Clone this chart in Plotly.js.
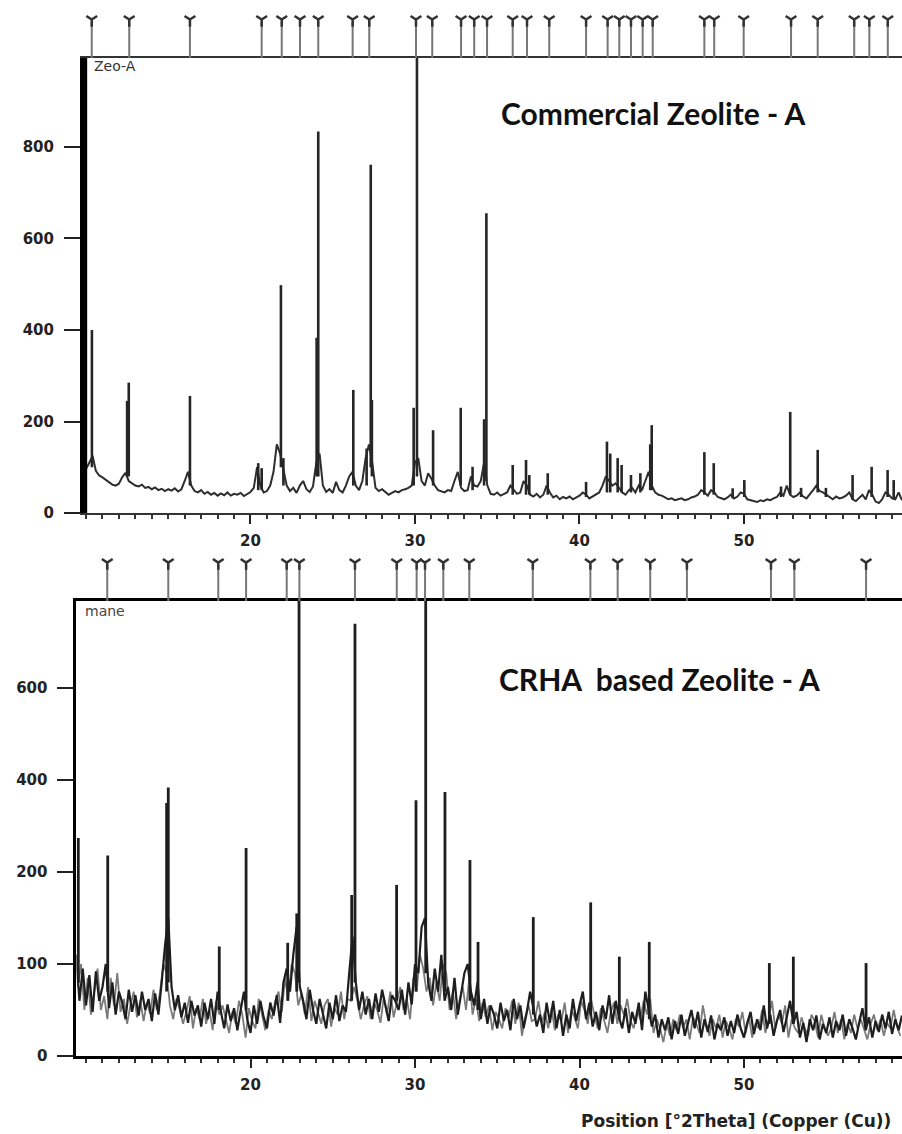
<!DOCTYPE html>
<html>
<head>
<meta charset="utf-8">
<script src="https://cdn.plot.ly/plotly-3.0.1.min.js"></script>
<style>html,body{margin:0;padding:0;background:#fff;}#chart{width:902px;height:1134px;}</style>
</head>
<body>
<div id="chart"></div>
<script>
// ---------- DATA: top panel (Commercial Zeolite-A) ----------
const topScanStart = 9.8;
const topScanStep = 0.2;
const topBackground = [
  92, 96,
  110, 125, 92, 82, 78,
  72, 66, 62, 60, 64,
  78, 88, 70, 64, 60,
  58, 62, 55, 57, 52,
  56, 50, 53, 48, 52,
  49, 54, 47, 52, 70,
  90, 60, 48, 45, 50,
  42, 46, 40, 44, 38,
  43, 39, 45, 38, 42,
  40, 44, 37, 41, 46,
  55, 100, 60, 45, 48,
  60, 90, 150, 130, 95,
  60, 48, 55, 44, 60,
  70, 52, 46, 58, 110,
  130, 60, 46, 52, 44,
  68, 50, 45, 60, 80,
  90, 60, 50, 70, 120,
  150, 110, 55, 48, 52,
  46, 40, 44, 48, 45,
  50, 52, 55, 60, 110,
  120, 70, 60, 87, 75,
  60, 50, 48, 45, 50,
  48, 70, 90, 55, 48,
  50, 80, 60, 58, 70,
  110, 60, 42, 40, 45,
  38, 42, 45, 60, 50,
  42, 45, 70, 60, 40,
  36, 42, 34, 40, 60,
  45, 34, 38, 30, 35,
  32, 36, 30, 34, 38,
  45, 40, 32, 36, 40,
  45, 60, 80, 70, 60,
  65, 55, 45, 40, 50,
  55, 45, 60, 50, 70,
  90, 60, 45, 40, 38,
  34, 30, 32, 28, 30,
  32, 28, 30, 34, 36,
  40, 50, 45, 38, 50,
  45, 35, 32, 30, 34,
  40, 32, 36, 45, 42,
  30, 28, 26, 24, 28,
  26, 30, 28, 32, 35,
  45, 38, 60, 40, 35,
  38, 45, 36, 32, 40,
  50, 60, 48, 45, 40,
  35, 30, 36, 32, 34,
  38, 45, 30, 26, 32,
  40, 30, 50, 40, 25,
  22, 30, 45, 40, 32,
  30, 45, 28
];
// intense low-angle signal at the very start of the scan (off scale)
const topLowAnglePos = [9.86];
const topLowAngleTop = [1100];
const topLowAngleBase = [0];
const topPeakPos  = [10.36, 12.50, 12.60, 16.32, 20.47, 20.68, 21.85, 22.00, 24.02, 24.12, 26.25, 27.06, 27.31, 27.38, 29.92, 30.12, 31.10, 32.78, 33.50, 34.20, 34.34, 35.94, 36.75, 36.95, 38.07, 40.40, 41.67, 41.87, 42.32, 42.56, 43.13, 43.70, 44.30, 44.39, 47.59, 48.16, 49.31, 50.02, 52.25, 52.81, 53.47, 54.48, 54.98, 56.60, 57.76, 58.73, 59.10];
const topPeakTop  = [400, 245, 285, 256, 109, 98, 498, 120, 383, 834, 269, 141, 761, 247, 230, 1000, 181, 230, 101, 205, 655, 105, 116, 83, 87, 68, 156, 130, 120, 105, 83, 87, 150, 192, 133, 109, 54, 72, 58, 221, 55, 138, 55, 83, 101, 94, 72];
const topPeakBase = [100, 80, 80, 60, 50, 50, 100, 60, 80, 80, 60, 60, 100, 80, 60, 80, 60, 60, 50, 60, 70, 40, 40, 40, 40, 35, 45, 45, 45, 45, 45, 45, 50, 50, 40, 40, 32, 35, 35, 40, 35, 45, 35, 30, 35, 35, 30];
const topReferenceLines = [10.35, 12.63, 16.32, 20.68, 21.90, 23.01, 24.12, 26.21, 27.22, 30.06, 31.05, 32.80, 33.60, 34.38, 35.94, 36.81, 38.16, 40.40, 41.71, 42.42, 43.13, 43.84, 44.45, 47.59, 48.19, 49.98, 52.86, 54.48, 56.70, 57.62, 58.74];
const topYTicks = [0, 200, 400, 600, 800];

// ---------- DATA: bottom panel (CRHA based Zeolite-A) ----------
const bottomScanStart = 9.4;
const bottomScanStep = 0.2;
const bottomDark = [
  110, 60, 95, 55,
  88, 48, 92, 60, 75,
  100, 52, 80, 45, 70,
  58, 40, 72, 48, 66,
  44, 70, 50, 62, 38,
  68, 45, 80, 120, 150,
  75, 50, 66, 42, 58,
  36, 60, 44, 55, 32,
  58, 40, 62, 35, 70,
  48, 30, 56, 38, 52,
  28, 50, 70, 40, 25,
  55, 35, 60, 42, 30,
  58, 44, 66, 36, 80,
  95, 70, 110, 140, 75,
  60, 40, 72, 50, 35,
  62, 45, 30, 58, 40,
  66, 38, 55, 48, 90,
  130, 80, 50, 70, 45,
  62, 40, 68, 48, 72,
  55, 38, 66, 60, 50,
  72, 45, 80, 56, 100,
  90, 140, 150, 80, 60,
  95, 70, 110, 60, 75,
  50, 85, 45, 66, 90,
  100, 70, 55, 80, 40,
  62, 35, 55, 45, 30,
  58, 38, 50, 28, 62,
  40, 55, 30, 48, 70,
  52, 32, 45, 25, 58,
  36, 60, 30, 50, 22,
  45, 30, 62, 38, 55,
  70, 40, 58, 32, 48,
  28, 55, 40, 66, 35,
  60, 42, 30, 52, 25,
  48, 35, 58, 28, 70,
  50, 32, 45, 20, 40,
  28, 42, 18, 38, 24,
  45, 22, 36, 50, 30,
  48, 20, 40, 26, 44,
  18, 35, 28, 42, 22,
  38, 25, 45, 30, 20,
  36, 48, 24, 40, 28,
  55, 30, 45, 22, 38,
  50, 26, 42, 60, 35,
  48, 20, 36, 15, 40,
  28, 44, 18, 35, 25,
  42, 20, 38, 28, 45,
  22, 40, 30, 18, 36,
  52, 28, 42, 20, 38,
  26, 45, 30, 48, 24,
  40, 28, 44
];
const bottomGrayStart = 9.5;
const bottomGray = [
  75, 100, 50, 85,
  45, 70, 95, 50, 65,
  40, 85, 55, 90, 48,
  62, 35, 55, 70, 42,
  60, 38, 58, 46, 72,
  50, 70, 100, 90, 55,
  40, 62, 50, 35, 48,
  65, 30, 52, 40, 62,
  35, 50, 28, 60, 45,
  55, 40, 25, 48, 35,
  60, 45, 20, 52, 38,
  30, 62, 45, 28, 50,
  40, 60, 70, 48, 85,
  60, 100, 90, 55, 68,
  45, 75, 38, 60, 48,
  35, 55, 62, 32, 52,
  45, 70, 40, 62, 60,
  75, 60, 40, 55, 65,
  40, 58, 50, 36, 64,
  45, 70, 42, 58, 75,
  50, 62, 40, 85, 70,
  110, 95, 70, 85, 55,
  80, 60, 100, 90, 50,
  70, 40, 60, 75, 50,
  85, 45, 62, 38, 58,
  42, 55, 28, 48, 40,
  30, 52, 42, 60, 35,
  58, 22, 42, 55, 38,
  40, 60, 36, 48, 30,
  52, 28, 45, 38, 58,
  25, 50, 42, 30, 60,
  50, 35, 62, 45, 30,
  52, 38, 25, 48, 58,
  35, 55, 45, 62, 38,
  30, 50, 40, 60, 45,
  62, 25, 40, 30, 15,
  35, 22, 40, 28, 45,
  30, 40, 18, 42, 35,
  25, 55, 35, 22, 40,
  30, 45, 20, 38, 30,
  18, 40, 32, 48, 25,
  42, 20, 35, 30, 50,
  25, 40, 60, 30, 45,
  35, 55, 20, 40, 30,
  25, 42, 30, 22, 45,
  38, 20, 45, 30, 22,
  30, 48, 25, 40, 18,
  35, 25, 45, 30, 40,
  30, 18, 35, 45, 28,
  40, 22, 36, 30, 50,
  32, 22
];
const bottomPeakPos  = [9.53, 11.32, 14.90, 15.00, 18.10, 19.73, 22.26, 22.81, 22.95, 26.15, 26.35, 28.88, 30.06, 30.65, 31.82, 33.34, 33.83, 37.19, 40.68, 42.42, 44.24, 51.54, 53.00, 57.42];
const bottomPeakTop  = [237, 218, 275, 292, 119, 226, 123, 155, 520, 175, 470, 186, 278, 520, 287, 213, 124, 151, 167, 108, 124, 101, 108, 101];
const bottomPeakBase = [80, 70, 70, 80, 50, 50, 60, 70, 80, 60, 80, 60, 70, 90, 70, 60, 50, 45, 45, 40, 40, 35, 35, 35];
const bottomReferenceLines = [11.29, 15.00, 18.04, 19.73, 22.20, 22.97, 26.35, 28.89, 30.10, 30.61, 31.72, 33.30, 37.16, 40.66, 42.32, 44.30, 46.53, 51.64, 53.06, 57.42];
const bottomYTickVals = [0, 100, 200, 300, 400];
const bottomYTickText = ['0', '100', '200', '400', '600'];

const xTickVals = [20, 30, 40, 50];

// ---------- helpers building traces from data ----------
function sticks(pos, top, base) {
  return {
    x: pos.flatMap(p => [p, p, null]),
    y: pos.flatMap((p, i) => [base[i], top[i], null])
  };
}
function refStems(pos) {
  return { x: pos.flatMap(p => [p, p, null]), y: pos.flatMap(() => [0, 0.75, null]) };
}

const topSticks = sticks(topPeakPos, topPeakTop, topPeakBase);
const topEdge = sticks(topLowAnglePos, topLowAngleTop, topLowAngleBase);
const botSticks = sticks(bottomPeakPos, bottomPeakTop, bottomPeakBase);
const topStems = refStems(topReferenceLines);
const botStems = refStems(bottomReferenceLines);

const traces = [
  { type: 'scatter', mode: 'lines', x0: topScanStart, dx: topScanStep, y: topBackground,
    xaxis: 'x', yaxis: 'y', line: { color: '#2e2e2e', width: 2 } },
  { type: 'scatter', mode: 'lines', x: topEdge.x, y: topEdge.y,
    xaxis: 'x', yaxis: 'y', line: { color: '#000', width: 7 } },
  { type: 'scatter', mode: 'lines', x: topSticks.x, y: topSticks.y,
    xaxis: 'x', yaxis: 'y', line: { color: '#262626', width: 2.6 } },
  { type: 'scatter', mode: 'lines', x: topStems.x, y: topStems.y,
    xaxis: 'x', yaxis: 'y3', line: { color: '#777', width: 2 } },
  { type: 'scatter', mode: 'markers', x: topReferenceLines, y: topReferenceLines.map(() => 0.8),
    xaxis: 'x', yaxis: 'y3', marker: { symbol: 'y-down', size: 9, line: { color: '#333', width: 2.5 } } },

  { type: 'scatter', mode: 'lines', x0: bottomGrayStart, dx: bottomScanStep, y: bottomGray,
    xaxis: 'x2', yaxis: 'y2', line: { color: '#7a7a7a', width: 1.8 } },
  { type: 'scatter', mode: 'lines', x0: bottomScanStart, dx: bottomScanStep, y: bottomDark,
    xaxis: 'x2', yaxis: 'y2', line: { color: '#1e1e1e', width: 2.2 } },
  { type: 'scatter', mode: 'lines', x: botSticks.x, y: botSticks.y,
    xaxis: 'x2', yaxis: 'y2', line: { color: '#1e1e1e', width: 2.8 } },
  { type: 'scatter', mode: 'lines', x: botStems.x, y: botStems.y,
    xaxis: 'x2', yaxis: 'y4', line: { color: '#777', width: 2 } },
  { type: 'scatter', mode: 'markers', x: bottomReferenceLines, y: bottomReferenceLines.map(() => 0.8),
    xaxis: 'x2', yaxis: 'y4', marker: { symbol: 'y-down', size: 9, line: { color: '#333', width: 2.5 } } }
];

const tickFont = { family: 'DejaVu Sans', size: 15, color: '#222', weight: 'bold' };
const xCommon = {
  tickvals: xTickVals, ticks: 'outside', ticklen: 9, tickwidth: 2, tickcolor: '#222',
  minor: { dtick: 1, tick0: 0, ticks: 'outside', ticklen: 4, tickwidth: 2, tickcolor: '#333' },
  showgrid: false, zeroline: false, showline: true, mirror: true,
  tickfont: tickFont, ticklabelstandoff: 4, fixedrange: true
};
const yCommon = {
  ticks: 'outside', ticklen: 16, tickwidth: 2, tickcolor: '#222',
  showgrid: false, zeroline: false, showline: true, linecolor: '#000',
  tickfont: tickFont, ticklabelstandoff: 7, fixedrange: true
};

const layout = {
  width: 902, height: 1134, autosize: false,
  margin: { l: 0, r: 0, t: 0, b: 0, pad: 0 },
  paper_bgcolor: '#fff', plot_bgcolor: 'rgba(0,0,0,0)',
  showlegend: false,
  xaxis: Object.assign({}, xCommon, { domain: [0.0909, 1], range: [9.757, 59.605], anchor: 'y',
    linecolor: '#333', linewidth: 2 }),
  yaxis: Object.assign({}, yCommon, { domain: [0.5476, 0.9489], range: [0, 994.5], anchor: 'x',
    tickvals: topYTicks, linewidth: 2 }),
  yaxis3: { domain: [0.9489, 0.9912], range: [0, 1], anchor: 'x', visible: false, fixedrange: true },
  xaxis2: Object.assign({}, xCommon, { domain: [0.0848, 1], range: [9.42, 59.605], anchor: 'y2',
    linecolor: '#000', linewidth: 3 }),
  yaxis2: Object.assign({}, yCommon, { domain: [0.0688, 0.4700], range: [0, 494.6], anchor: 'x2',
    tickvals: bottomYTickVals, ticktext: bottomYTickText, linewidth: 3 }),
  yaxis4: { domain: [0.4700, 0.5123], range: [0, 1], anchor: 'x2', visible: false, fixedrange: true },
  annotations: [
    { xref: 'paper', yref: 'paper', x: 0.102, y: 0.9418, xanchor: 'left', yanchor: 'middle', showarrow: false,
      text: 'Zeo-A', font: { family: 'DejaVu Sans', size: 14, color: '#333' } },
    { xref: 'paper', yref: 'paper', x: 0.092, y: 0.4612, xanchor: 'left', yanchor: 'middle', showarrow: false,
      text: 'mane', font: { family: 'DejaVu Sans', size: 14, color: '#444' } },
    { xref: 'paper', yref: 'paper', x: 0.7245, y: 0.9004, xanchor: 'center', yanchor: 'middle', showarrow: false,
      text: 'Commercial Zeolite - A', font: { family: 'Lato', size: 30, color: '#111', weight: 'bold' } },
    { xref: 'paper', yref: 'paper', x: 0.7317, y: 0.4012, xanchor: 'center', yanchor: 'middle', showarrow: false,
      text: 'CRHA\u00a0 based Zeolite - A', font: { family: 'Lato', size: 30, color: '#111', weight: 'bold' } },
    { xref: 'paper', yref: 'paper', x: 0.99, y: 0.0115, xanchor: 'right', yanchor: 'middle', showarrow: false,
      text: 'Position [°2Theta] (Copper (Cu))', font: { family: 'DejaVu Sans', size: 17, color: '#222', weight: 'bold' } }
  ]
};

Plotly.newPlot('chart', traces, layout, { staticPlot: true, displayModeBar: false });
</script>
</body>
</html>
